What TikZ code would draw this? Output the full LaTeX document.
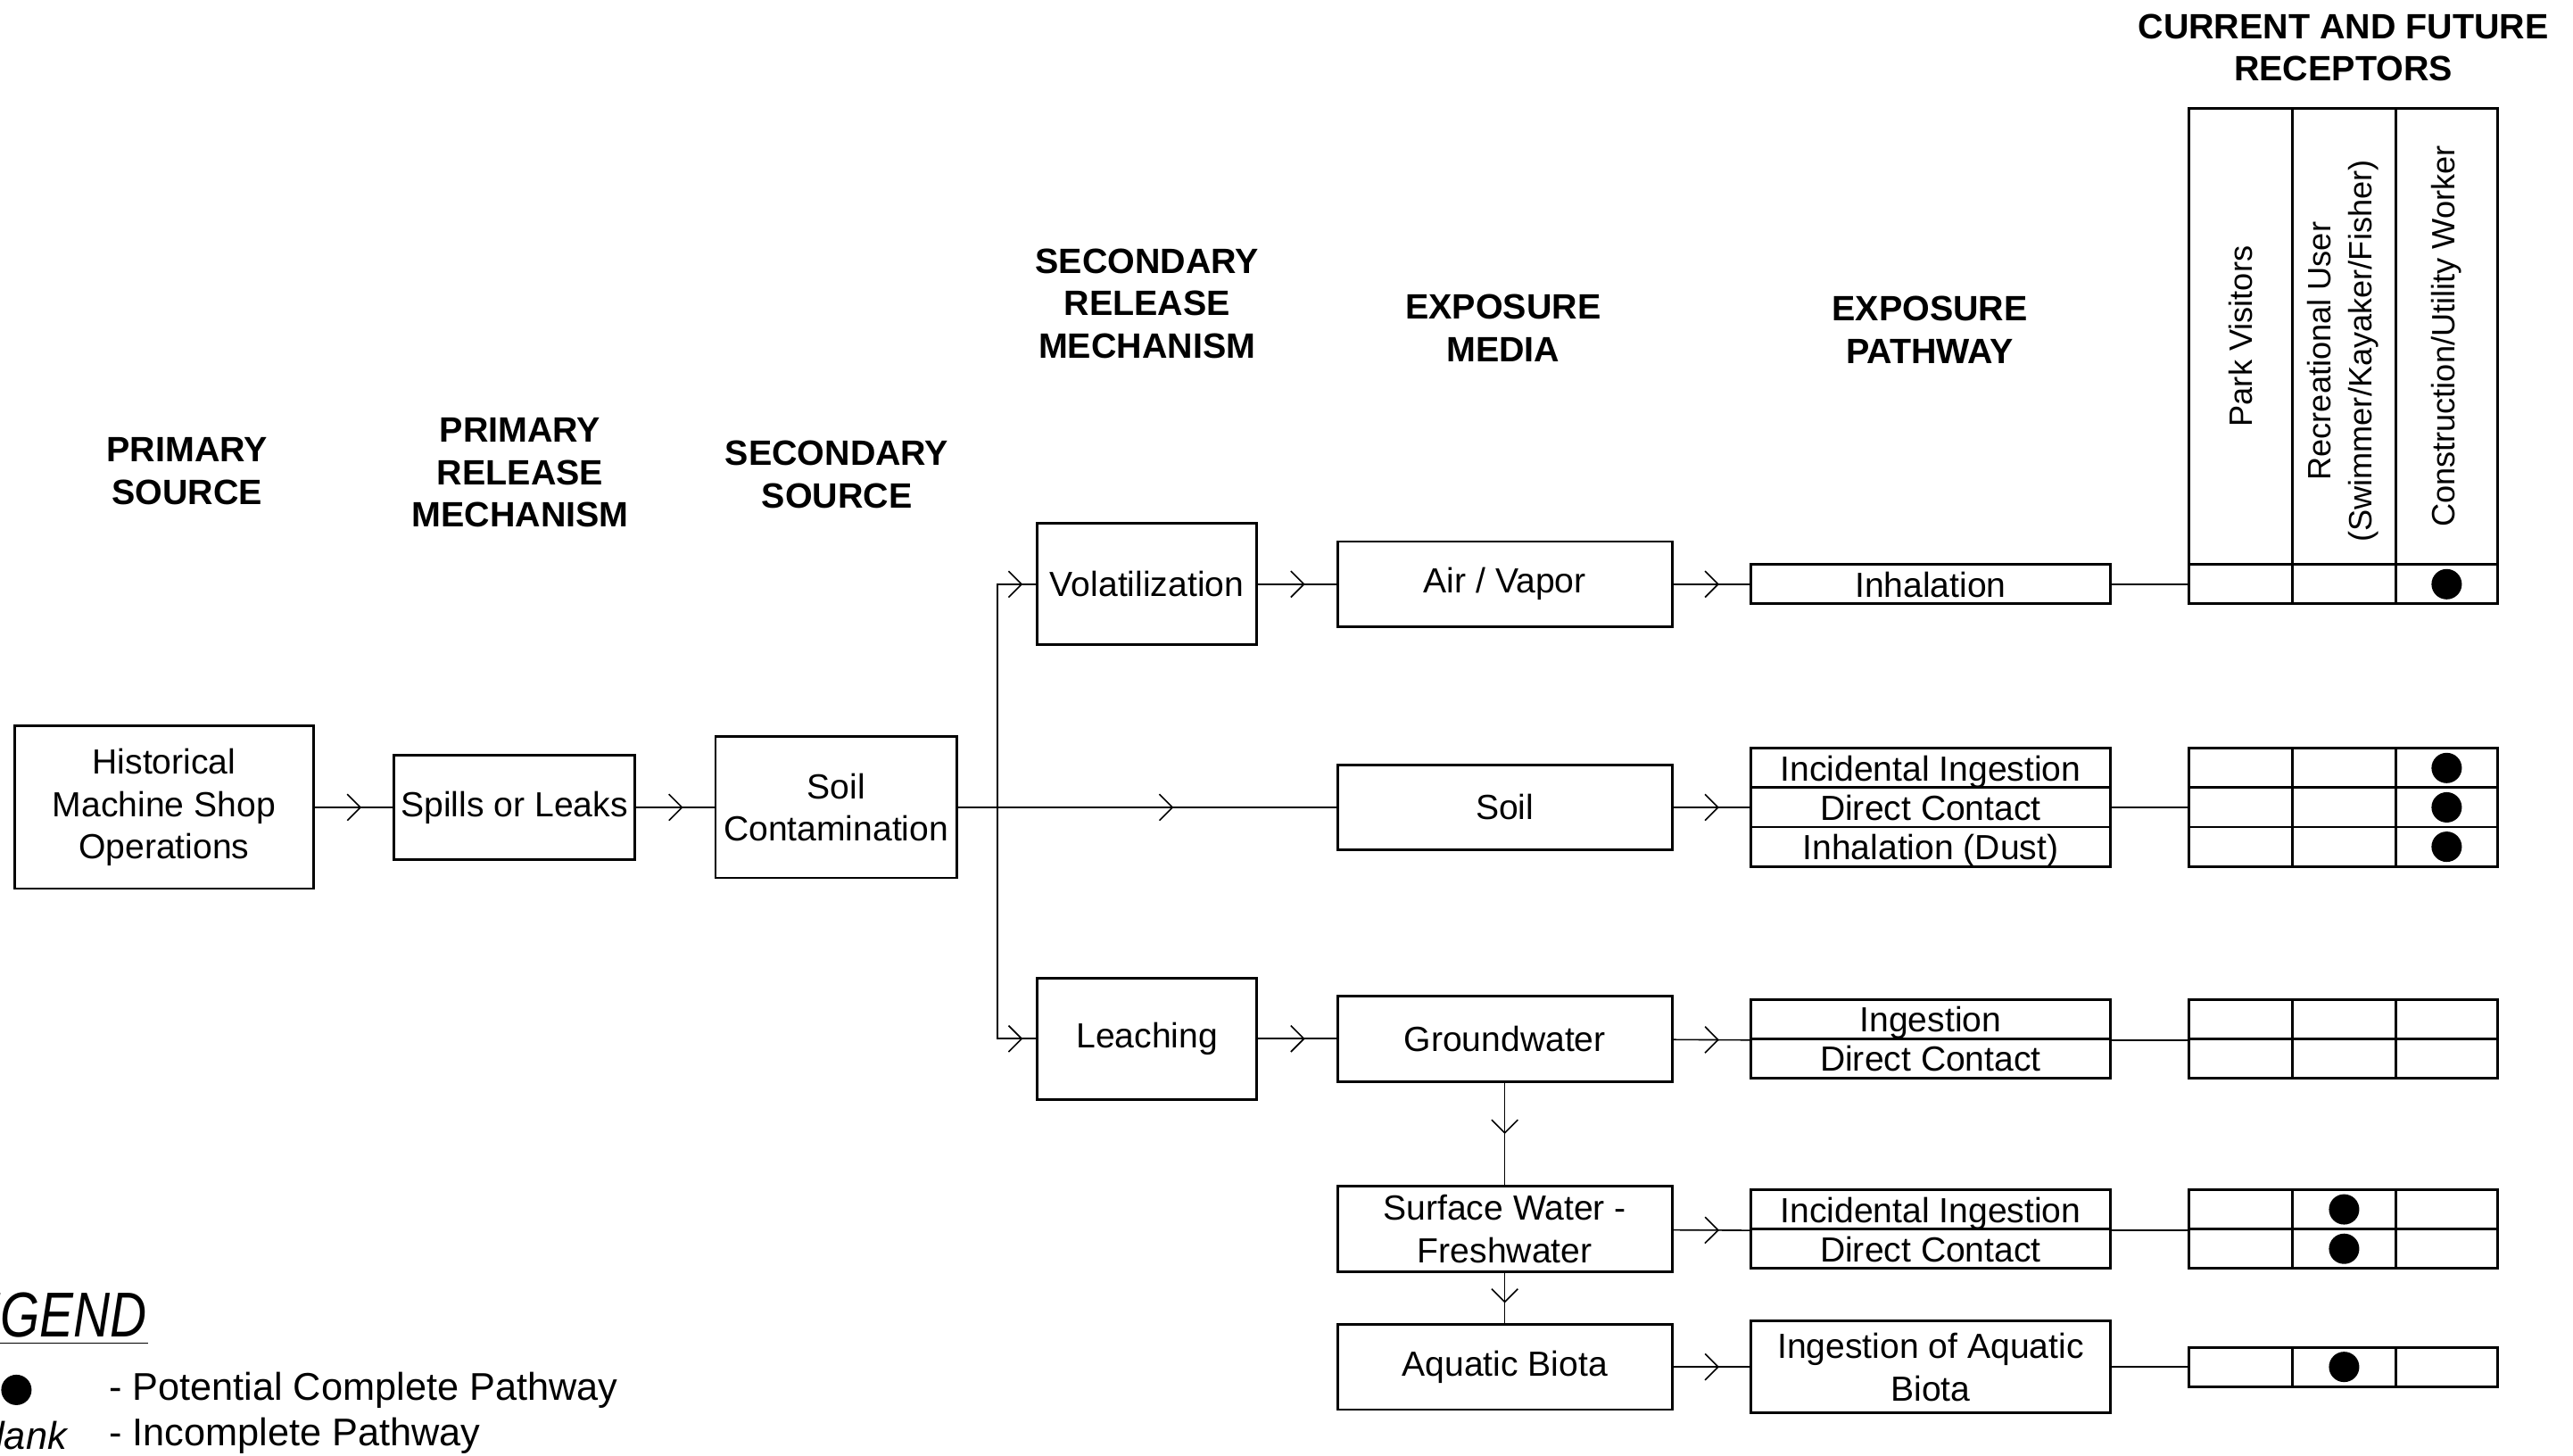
\documentclass[tikz,border=0pt]{standalone}
\usepackage{fontspec}
\setmainfont{Liberation Sans}
\usepackage{tikz}
\usetikzlibrary{arrows.meta, decorations.markings}

\newcommand{\txtbox}{\fontsize{12.1pt}{14.8pt}\selectfont}
\newcommand{\txthead}{\fontsize{12.2pt}{14.8pt}\selectfont\bfseries}
\newcommand{\txtrec}{\fontsize{11.2pt}{14.2pt}\selectfont}
\newcommand{\txtleg}{\fontsize{13.4pt}{16pt}\selectfont}

\tikzset{
    box/.style={draw, line width=0.9pt, inner sep=0pt, align=center, font=\txtbox},
    media/.style={box, minimum width=4.08cm, minimum height=1.04cm},
    row/.style={draw, line width=0.9pt, inner sep=0pt, minimum width=4.38cm, minimum height=0.48cm, text height=9pt, text depth=0pt, font=\txtbox},
    cell/.style={draw, line width=0.9pt, inner sep=0pt, minimum width=3.76cm, minimum height=0.48cm},
    head/.style={align=center, inner sep=0pt, font=\txthead},
    rec/.style={rotate=90, align=center, inner sep=0pt, font=\txtrec},
    dot/.style={circle, fill, inner sep=0pt, minimum size=0.37cm},
    link/.style={line width=0.5pt},
    flow/.style={link, decoration={markings, mark=at position #1 with {\arrow{Straight Barb[length=1.6mm, width=3.2mm]}}}, postaction={decorate}},
    flow/.default=0.6
}

\begin{document}
\begin{tikzpicture}[x=0.02cm, y=-0.02cm]
            \useasboundingbox (0,0) rectangle (1568,887);

            % Column headings
            \node[head] (hps) at (114,287) {PRIMARY\\SOURCE};
            \node[head] (hprm) at (317,288) {PRIMARY\\RELEASE\\MECHANISM};
            \node[head] (hss) at (510,289) {SECONDARY\\SOURCE};
            \node[head] (hsrm) at (699,185) {SECONDARY\\RELEASE\\MECHANISM};
            \node[head] (hem) at (916,200) {EXPOSURE\\MEDIA};
            \node[head] (hep) at (1176,201) {EXPOSURE\\PATHWAY};
            \node[head] (hrec) at (1428,29) {CURRENT AND FUTURE\\RECEPTORS};

            % Sources and release mechanisms
            \node[box, minimum width=3.64cm, minimum height=1.98cm] (hist) at (100,492) {Historical\\Machine Shop\\Operations};
            \node[box, minimum width=2.94cm, minimum height=1.28cm] (spill) at (313.5,492) {Spills or Leaks};
            \node[box, minimum width=2.94cm, minimum height=1.72cm] (soilc) at (509.5,492) {Soil\\Contamination};
            \node[box, minimum width=2.68cm, minimum height=1.48cm] (volat) at (699,356) {Volatilization};
            \node[box, minimum width=2.68cm, minimum height=1.48cm] (leach) at (699,633) {Leaching};

            % Exposure media
            \node[media] (air) at (917,356) {Air / Vapor};
            \node[media] (soil) at (917,492) {Soil};
            \node[media] (gw) at (917,633) {Groundwater};
            \node[media] (sw) at (917,749) {Surface Water -\\Freshwater};
            \node[media] (biota) at (917,833) {Aquatic Biota};

            % Exposure pathways
            \node[row] (pinh) at (1176.5,356) {Inhalation};
            \node[row] (ps1) at (1176.5,468) {Incidental Ingestion};
            \node[row] (ps2) at (1176.5,492) {Direct Contact};
            \node[row] (ps3) at (1176.5,516) {Inhalation (Dust)};
            \node[row] (pg1) at (1176.5,621) {Ingestion};
            \node[row] (pg2) at (1176.5,645) {Direct Contact};
            \node[row] (pw1) at (1176.5,737) {Incidental Ingestion};
            \node[row] (pw2) at (1176.5,761) {Direct Contact};
            \node[box, minimum width=4.38cm, minimum height=1.12cm] (pbio) at (1176.5,833) {Ingestion of Aquatic\\Biota};

            % Receptor table
            \node[draw, line width=0.9pt, inner sep=0pt, minimum width=3.76cm, minimum height=5.56cm] (rhead) at (1428,205) {};
            \node[cell] (rinh) at (1428,356) {};
            \node[cell] (rs1) at (1428,468) {};
            \node[cell] (rs2) at (1428,492) {};
            \node[cell] (rs3) at (1428,516) {};
            \node[cell] (rg1) at (1428,621) {};
            \node[cell] (rg2) at (1428,645) {};
            \node[cell] (rw1) at (1428,737) {};
            \node[cell] (rw2) at (1428,761) {};
            \node[cell] (rb) at (1428,833) {};
            \draw[line width=0.9pt] (1397,66) -- (1397,368) (1460,66) -- (1460,368);
            \draw[line width=0.9pt] (1397,456) -- (1397,528) (1460,456) -- (1460,528);
            \draw[line width=0.9pt] (1397,609) -- (1397,657) (1460,609) -- (1460,657);
            \draw[line width=0.9pt] (1397,725) -- (1397,773) (1460,725) -- (1460,773);
            \draw[line width=0.9pt] (1397,821) -- (1397,845) (1460,821) -- (1460,845);
            \node[rec] (park) at (1365.5,205) {Park Visitors};
            \node[rec] (recu) at (1428,214) {Recreational User\\(Swimmer/Kayaker/Fisher)};
            \node[rec] (cons) at (1491,205) {Construction/Utility Worker};

            % Complete pathways
            \node[dot] (d1) at (1491,356) {};
            \node[dot] (d2) at (1491,468) {};
            \node[dot] (d3) at (1491,492) {};
            \node[dot] (d4) at (1491,516) {};
            \node[dot] (d5) at (1428.5,737) {};
            \node[dot] (d6) at (1428.5,761) {};
            \node[dot] (d7) at (1428.5,833) {};

            % Flow arrows
            \coordinate (br) at (608,492);
            \draw[flow] (hist) -- (spill);
            \draw[flow] (spill) -- (soilc);
            \draw[flow=0.57] (soilc) -- (soil);
            \draw[flow=-0.16cm] (br) |- (volat.west);
            \draw[flow=-0.16cm] (br) |- (leach.west);
            \draw[flow] (volat) -- (air);
            \draw[flow] (leach) -- (gw);
            \draw[flow=0.5] (gw) -- (sw);
            \draw[flow] (sw) -- (biota);
            \draw[flow] (air) -- (pinh);
            \draw[flow] (soil) -- (ps2);
            \draw[flow] (gw) -- (pg1.south west);
            \draw[flow] (sw) -- (pw1.south west);
            \draw[flow] (biota) -- (pbio);

            % Pathways to receptors
            \draw[link] (pinh) -- (rinh);
            \draw[link] (ps2) -- (rs2);
            \draw[link] (pg1.south east) -- (rg1.south west);
            \draw[link] (pw1.south east) -- (rw1.south west);
            \draw[link] (pbio) -- (rb);

            % Legend
            \node[anchor=south east, inner sep=0pt, text depth=0pt, font=\fontsize{22pt}{26pt}\selectfont] (leg) at (90,815) {\scalebox{0.8}[1]{\itshape LEGEND}};
            \draw[link] ([yshift=-2pt]leg.south west) -- ([yshift=-2pt]leg.south east);
            \node[dot] (ldot) at (10,847) {};
            \node[anchor=west, inner sep=0pt, font=\txtleg] (l1) at (66,847) {- Potential Complete Pathway};
            \node[anchor=east, inner sep=0pt, font=\txtleg\itshape] (l0) at (41,875) {blank};
            \node[anchor=west, inner sep=0pt, font=\txtleg] (l2) at (66,875) {- Incomplete Pathway};
        \end{tikzpicture}
\end{document}
